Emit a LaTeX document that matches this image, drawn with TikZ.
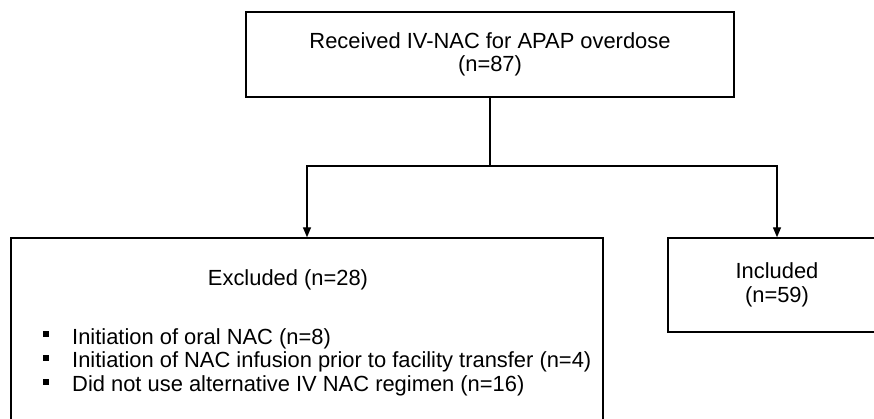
\documentclass[tikz,border=0pt]{standalone}
\usepackage{fontspec}
\setmainfont{Liberation Sans}
\usetikzlibrary{arrows.meta}
\tikzset{
  >={Triangle[length=10pt,width=8pt]},
  box/.style = {draw, line width=1.4pt, rectangle, inner sep=0,
                align=center},
  title text/.style = {inner sep=0, anchor=base},
  item text/.style = {inner sep=0, anchor=base west},
  bullet/.style = {fill=black, inner sep=0, minimum size=6pt},
  link/.style = {line width=1.4pt},
}
\begin{document}
\begin{tikzpicture}[x=1pt,y=-1pt,font=\fontsize{21.9}{23.5}\selectfont]
\path[use as bounding box,clip] (0,0) rectangle (874,419);
% boxes
\node[box, minimum width=488pt, minimum height=85pt] (rec) at (490,54.5)
  {Received IV-NAC for APAP overdose\\(n=87)};
\node[box, minimum width=592pt, minimum height=200pt] (exc) at (307,338) {};
\node[box, minimum width=218pt, minimum height=94pt] (inc) at (777,285)
  {Included\\(n=59)};
% text in the excluded box
\node[title text] (exctitle) at (288,285) {Excluded (n=28)};
\node[bullet] (b1) at (46,333.5) {};
\node[bullet] (b2) at (46,357.5) {};
\node[bullet] (b3) at (46,381.5) {};
\node[item text] (i1) at (72,344) {Initiation of oral NAC (n=8)};
\node[item text] (i2) at (72,367.5) {Initiation of NAC infusion prior to facility transfer (n=4)};
\node[item text] (i3) at (72,391.5) {Did not use alternative IV NAC regimen (n=16)};
% connectors
\coordinate (split) at (490,166);
\draw[link] (rec.south) -- (split);
\draw[link,->] (split) -| (exc.north);
\draw[link,->] (split) -| (inc.north);
\end{tikzpicture}
\end{document}
